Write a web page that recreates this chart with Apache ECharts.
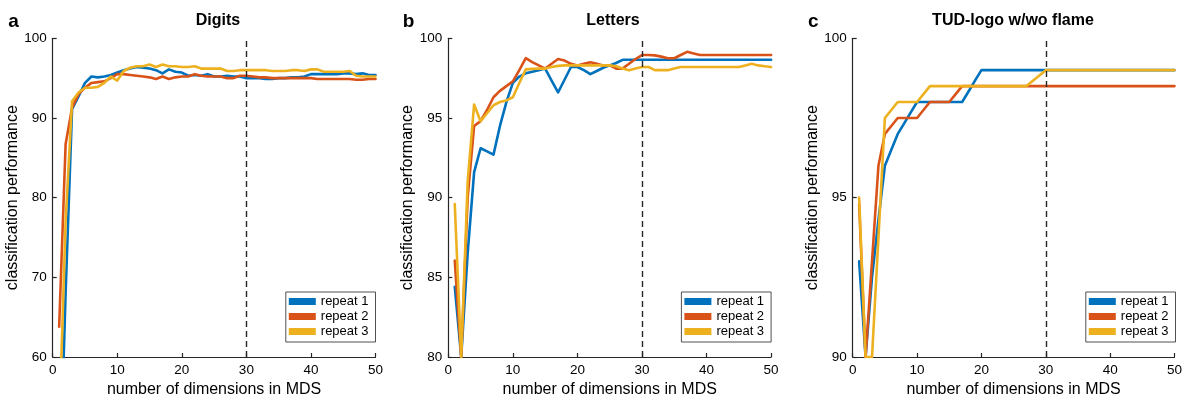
<!DOCTYPE html>
<html>
<head>
<meta charset="utf-8">
<script src="https://cdn.jsdelivr.net/npm/echarts@6/dist/echarts.min.js"></script>
<style>
  html, body { margin: 0; padding: 0; background: #fff; }
  #chart { width: 1185px; height: 403px; }
</style>
</head>
<body>
<div id="chart"></div>
<script>
// ---------- data ----------
const dims = [1,2,3,4,5,6,7,8,9,10,11,12,13,14,15,16,17,18,19,20,21,22,23,24,25,26,27,28,29,30,31,32,33,34,35,36,37,38,39,40,41,42,43,44,45,46,47,48,49,50];
const seriesNames = ['repeat 1', 'repeat 2', 'repeat 3'];
const panelTitles = ['Digits', 'Letters', 'TUD-logo w/wo flame'];
const panelLetters = ['a', 'b', 'c'];
const xTitle = 'number of dimensions in MDS';
const yTitle = 'classification performance';
const cutoffDim = 30;

// Digits
const digitsR1 = [41,68,91.1,92.7,94.4,95.2,95.1,95.2,95.4,95.7,96.0,96.2,96.4,96.3,96.2,96.0,95.6,96.1,95.8,95.7,95.3,95.4,95.3,95.5,95.2,95.2,95.3,95.2,95.2,95.0,95.0,95.0,94.9,94.9,95.0,95.0,95.1,95.1,95.2,95.5,95.5,95.5,95.5,95.5,95.6,95.6,95.5,95.6,95.4,95.4];
const digitsR2 = [63.8,86.7,91.3,93.0,93.8,94.4,94.5,94.6,95.0,95.5,95.5,95.4,95.3,95.2,95.1,94.9,95.2,94.9,95.1,95.2,95.2,95.5,95.3,95.2,95.2,95.2,95.0,95.0,95.3,95.3,95.2,95.1,95.1,95.0,95.0,95.0,95.0,95.0,95.0,95.0,94.9,94.9,94.9,94.9,94.9,94.9,94.8,94.8,94.9,94.9];
const digitsR3 = [51,77,92.1,93.2,93.8,93.8,93.9,94.4,95.2,94.7,95.9,96.3,96.5,96.5,96.7,96.4,96.7,96.5,96.5,96.4,96.4,96.5,96.2,96.2,96.2,96.2,95.9,95.9,96.0,96.0,96.0,96.0,96.0,95.9,95.9,95.9,96.0,96.0,95.9,96.1,96.1,95.8,95.8,95.8,95.8,95.9,95.3,95.2,95.2,95.2];

// Letters
const lettersR1 = [84.4,80,86.5,91.6,93.1,92.9,92.7,94.5,96.0,97.2,97.6,97.8,97.9,98.0,98.1,97.35,96.6,97.4,98.2,98.2,98.0,97.75,97.95,98.15,98.3,98.45,98.65,98.65,98.65,98.65,98.65,98.65,98.65,98.65,98.65,98.65,98.65,98.65,98.65,98.65,98.65,98.65,98.65,98.65,98.65,98.65,98.65,98.65,98.65,98.65];
const lettersR2 = [86.05,80,90,94.5,94.8,95.5,96.3,96.7,97.0,97.3,98.0,98.75,98.5,98.3,98.1,98.4,98.7,98.6,98.4,98.3,98.4,98.5,98.4,98.3,98.3,98.1,98.1,98.4,98.7,98.95,98.95,98.93,98.85,98.75,98.75,98.95,99.15,99.05,98.95,98.95,98.95,98.95,98.95,98.95,98.95,98.95,98.95,98.95,98.95,98.95];
const lettersR3 = [89.6,80,91,95.85,94.8,95.3,95.8,96.0,96.1,96.3,97.2,98.05,98.08,98.1,98.1,98.2,98.27,98.3,98.3,98.3,98.3,98.3,98.3,98.3,98.3,98.25,98.1,98.0,98.1,98.2,98.2,98.0,98.0,98.0,98.1,98.2,98.2,98.2,98.2,98.2,98.2,98.2,98.2,98.2,98.2,98.3,98.4,98.3,98.25,98.2];

// TUD-logo w/wo flame
const tudR1 = [93,90,92.5,94.3,96,96.5,97,97.33,97.67,98,98,98,98,98,98,98,98,98.33,98.67,99,99,99,99,99,99,99,99,99,99,99,99,99,99,99,99,99,99,99,99,99,99,99,99,99,99,99,99,99,99,99];
const tudR2 = [94.8,90,93,96,97,97.25,97.5,97.5,97.5,97.5,97.75,98,98,98,98,98.25,98.5,98.5,98.5,98.5,98.5,98.5,98.5,98.5,98.5,98.5,98.5,98.5,98.5,98.5,98.5,98.5,98.5,98.5,98.5,98.5,98.5,98.5,98.5,98.5,98.5,98.5,98.5,98.5,98.5,98.5,98.5,98.5,98.5,98.5];
const tudR3 = [95,90,90,93.75,97.5,97.75,98,98,98,98,98.25,98.5,98.5,98.5,98.5,98.5,98.5,98.5,98.5,98.5,98.5,98.5,98.5,98.5,98.5,98.5,98.5,98.67,98.83,99,99,99,99,99,99,99,99,99,99,99,99,99,99,99,99,99,99,99,99,99];

const xTicksMin = 0, xTicksMax = 50, xTickStep = 10;
const yRanges = [[60, 100, 10], [80, 100, 5], [90, 100, 5]];

// ---------- layout / style ----------
const colors = ['#0072BD', '#D95319', '#EDB120'];
const axisColor = '#262626';
const FONT = '"Liberation Sans", Arial, Helvetica, sans-serif';
const gridLefts = [52.7, 448.3, 852.7];
const gridWidth = 322.8;
const gridTop = 38.3;
const gridHeight = 323.4;
const panelData = [
  [digitsR1, digitsR2, digitsR3],
  [lettersR1, lettersR2, lettersR3],
  [tudR1, tudR2, tudR3]
];

const grids = [], xAxes = [], yAxes = [], series = [], legends = [], graphics = [];

for (let p = 0; p < 3; p++) {
  grids.push({ left: gridLefts[p], top: gridTop, width: gridWidth, height: gridHeight, containLabel: false });
  xAxes.push({
    type: 'value', gridIndex: p, min: xTicksMin, max: xTicksMax, interval: xTickStep,
    axisLine: { show: true, lineStyle: { color: axisColor, width: 1.2 } },
    axisTick: { show: true, inside: true, length: 4, lineStyle: { color: axisColor, width: 1.2 } },
    axisLabel: { color: '#000', fontSize: 13.5, fontFamily: FONT, margin: 6 },
    splitLine: { show: false },
    name: xTitle, nameLocation: 'middle', nameGap: 25,
    nameTextStyle: { color: '#000', fontSize: 16, fontFamily: FONT }
  });
  yAxes.push({
    type: 'value', gridIndex: p, min: yRanges[p][0], max: yRanges[p][1], interval: yRanges[p][2],
    axisLine: { show: true, lineStyle: { color: axisColor, width: 1.2 } },
    axisTick: { show: true, inside: true, length: 4, lineStyle: { color: axisColor, width: 1.2 } },
    axisLabel: { color: '#000', fontSize: 13.5, fontFamily: FONT, margin: 6 },
    splitLine: { show: false },
    name: yTitle, nameLocation: 'middle', nameGap: 26.5,
    nameTextStyle: { color: '#000', fontSize: 16, fontFamily: FONT }
  });
  for (let s = 0; s < 3; s++) {
    const vals = panelData[p][s];
    const ser = {
      type: 'line', name: seriesNames[s], xAxisIndex: p, yAxisIndex: p,
      data: dims.map((d, i) => [d, vals[i]]),
      showSymbol: false, symbol: 'none', clip: true,
      color: colors[s],
      lineStyle: { color: colors[s], width: 2.6, cap: 'round', join: 'round' },
      emphasis: { disabled: true },
      z: 2 + s
    };
    if (s === 0) {
      ser.markLine = {
        silent: true, symbol: ['none', 'none'], label: { show: false },
        lineStyle: { type: [6, 4], color: axisColor, width: 1.4 },
        emphasis: { disabled: true },
        data: [{ xAxis: cutoffDim }]
      };
    }
    series.push(ser);
  }
  legends.push({
    data: seriesNames, orient: 'vertical',
    right: 1185 - (gridLefts[p] + gridWidth), top: 292,
    icon: 'rect', itemWidth: 27, itemHeight: 7, itemGap: 2,
    padding: [3, 7, 4, 3],
    backgroundColor: '#fff', borderColor: axisColor, borderWidth: 0.8,
    textStyle: { color: '#000', fontSize: 13, fontFamily: FONT, lineHeight: 13 },
    selectedMode: false, z: 10
  });
}

const titleX = [218, 613, 1013];
const letterX = [8.3, 402.7, 808];
for (let p = 0; p < 3; p++) {
  graphics.push({
    type: 'text', x: titleX[p], y: 21, z: 20,
    style: { text: panelTitles[p], x: 0, y: 0, font: 'bold 16px ' + FONT, fill: '#000',
      align: 'center', verticalAlign: 'middle', textAlign: 'center', textVerticalAlign: 'middle' }
  });
  graphics.push({
    type: 'text', x: letterX[p], y: 21.7, z: 20,
    style: { text: panelLetters[p], x: 0, y: 0, font: 'bold 19px ' + FONT, fill: '#000',
      align: 'left', verticalAlign: 'middle', textAlign: 'left', textVerticalAlign: 'middle' }
  });
}

const chart = echarts.init(document.getElementById('chart'), null, { renderer: 'canvas' });
chart.setOption({
  animation: false,
  backgroundColor: '#fff',
  grid: grids, xAxis: xAxes, yAxis: yAxes,
  legend: legends, series: series, graphic: graphics
});
</script>
</body>
</html>
